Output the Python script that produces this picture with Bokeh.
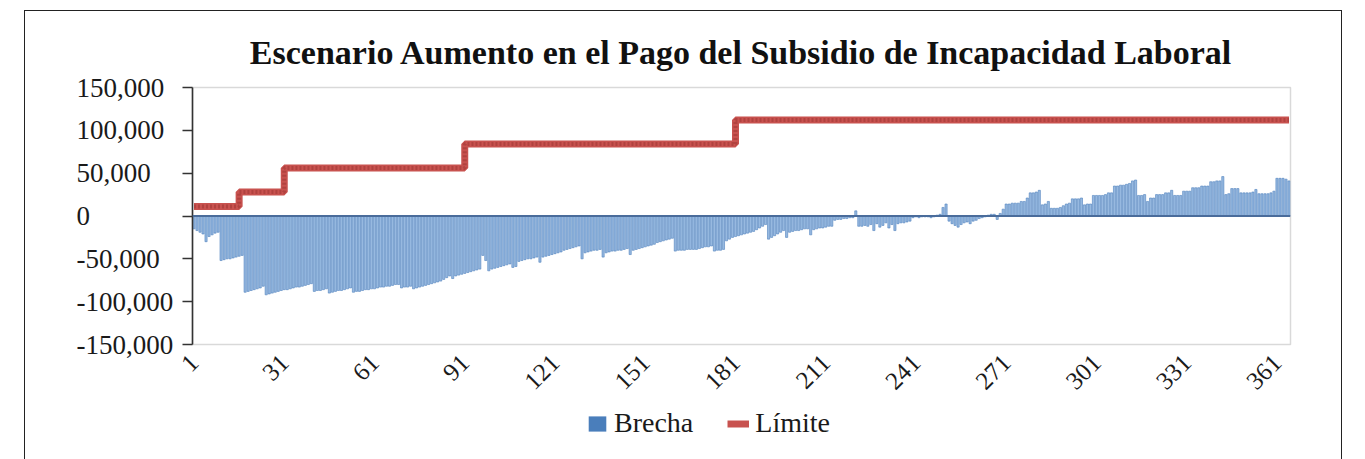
import math
from bokeh.plotting import figure
from bokeh.models import (Range1d, FixedTicker, Legend, LegendItem, Span,
                          ColumnDataSource)
from bokeh.layouts import row, column
from bokeh.embed import file_html
from bokeh.resources import INLINE

# ---------------- data ----------------
titulo = "Escenario Aumento en el Pago del Subsidio de Incapacidad Laboral"

dias = list(range(1, 366))

brecha = [
    # 1-9
    -15000, -17000, -19000, -21000, -30000, -24000, -22000, -20000, -19000,
    # 10-17
    -52000, -51000, -50000, -50000, -49000, -48000, -47000, -46000,
    # 18-24
    -89000, -88000, -87000, -86000, -85000, -84000, -82000,
    # 25-40
    -92000, -91000, -90000, -89000, -88000, -87000, -86000, -86000,
    -85000, -84000, -83000, -83000, -82000, -81000, -80000, -79000,
    # 41-45
    -88000, -87000, -87000, -86000, -85000,
    # 46-53
    -90000, -89000, -88000, -87000, -87000, -86000, -85000, -84000,
    # 54-69
    -89000, -88000, -88000, -87000, -86000, -86000, -85000, -85000,
    -84000, -83000, -83000, -82000, -82000, -81000, -80000, -80000,
    # 70-74
    -84000, -83000, -83000, -82000, -85000,
    # 75-86
    -84000, -83000, -82000, -81000, -80000, -79000, -78000, -77000,
    -76000, -74000, -72000, -70000,
    # 87
    -73000,
    # 88-96
    -70000, -69000, -68000, -67000, -66000, -65000, -64000, -63000, -62000,
    # 97-99
    -46000, -52000, -64000,
    # 100-106
    -62000, -61000, -60000, -59000, -58000, -57000, -56000,
    # 107-108
    -60000, -59000,
    # 109-115
    -53000, -52000, -51000, -50000, -50000, -49000, -48000,
    # 116
    -54000,
    # 117-123
    -48000, -47000, -46000, -45000, -44000, -43000, -42000,
    # 124-129
    -40000, -39000, -38000, -37000, -36000, -35000,
    # 130
    -50000,
    # 131-136
    -43000, -42000, -41000, -40000, -40000, -39000,
    # 137
    -48000,
    # 138-145
    -43000, -42000, -41000, -41000, -40000, -40000, -39000, -38000,
    # 146
    -45000,
    # 147-155
    -40000, -39000, -38000, -37000, -36000, -35000, -34000, -33000, -31000,
    # 156-160
    -30000, -29000, -28000, -27000, -26000,
    # 161-167
    -41000, -40000, -40000, -40000, -39000, -39000, -39000,
    # 168-173
    -39000, -38000, -37000, -36000, -36000, -35000,
    # 174-177
    -41000, -40000, -40000, -39000,
    # 178-187
    -29000, -27000, -25000, -24000, -23000, -22000, -21000, -20000, -19000, -18000,
    # 188-191
    -16000, -14000, -12000, -10000,
    # 192-197
    -27000, -25000, -23000, -21000, -19000, -17000,
    # 198
    -25000,
    # 199-205
    -19000, -18000, -17000, -17000, -16000, -15000, -15000,
    # 206
    -22000,
    # 207-213
    -16000, -15000, -14000, -14000, -13000, -12000, -12000,
    # 214-220
    -5000, -4000, -4000, -3000, -3000, -2000, -2000,
    # 221
    6000,
    # 222-239
    -12000, -12000, -11000, -12000, -10000, -17000, -9000, -13000, -11000,
    -8000, -14000, -10000, -17000, -9000, -8000, -8000, -7000, -6000,
    # 240-249
    -2000, -1000, -2000, -1000, -1000, -1000, -2000, -1000, 1000, 2000,
    # 250-251
    10000, 14000,
    # 252-261
    -6000, -9000, -11000, -13000, -10000, -8000, -7000, -9000, -6000, -5000,
    # 262-266
    -3000, -2000, -1000, 1000, 2000,
    # 267-270
    2000, -4000, 3000, 8000,
    # 271-277
    14000, 14000, 15000, 15000, 15000, 17000, 17000,
    # 278-282
    21000, 27000, 27000, 28000, 30000,
    # 283-285
    13000, 14000, 17000,
    # 286-290
    9000, 9000, 9000, 10000, 12000,
    # 291-296
    14000, 15000, 20000, 20000, 20000, 21000,
    # 297-299
    13000, 14000, 14000,
    # 300-306
    24000, 24000, 24000, 24000, 25000, 27000, 27000,
    # 307-314
    35000, 35000, 36000, 36000, 37000, 38000, 41000, 42000,
    # 315-320
    24000, 24000, 25000, 17000, 21000, 21000,
    # 321-326
    25000, 25000, 25000, 27000, 27000, 30000,
    # 327-332
    24000, 24000, 24000, 29000, 29000, 29000,
    # 333-338
    33000, 33000, 33000, 35000, 35000, 35000,
    # 339-343
    40000, 40000, 41000, 41000, 46000,
    # 344-348
    25000, 26000, 32000, 32000, 32000,
    # 349-354
    27000, 27000, 27000, 27000, 28000, 31000,
    # 355-360
    26000, 26000, 26000, 26000, 27000, 29000,
    # 361-365
    44000, 44000, 44000, 43000, 41000,
]

# Límite: level changes (day where each level starts, plus last day)
limite_dia = [1, 16, 31, 91, 181, 365]
limite_valor = [11000, 28000, 56000, 84000, 112000, 112000]

x_ticks = [1, 31, 61, 91, 121, 151, 181, 211, 241, 271, 301, 331, 361]
y_ticks = [-150000, -100000, -50000, 0, 50000, 100000, 150000]
y_tick_labels = ["-150,000", "-100,000", "-50,000", "0", "50,000", "100,000", "150,000"]
y_min, y_max = -150000, 150000

serif = "Liberation Serif"
INK = "#1a1a1a"

# ---------------- layout constants (pixels) ----------------
LABEL_W = 176          # strip holding the left-aligned y labels
MAIN_W = 1189
TOP = 87               # frame top
BOTTOM = 55            # space below the frame for the x labels
MAIN_H = 345 + BOTTOM
LEG_H = 59

yr = Range1d(y_min, y_max)

# ---------------- main chart ----------------
p = figure(width=MAIN_W, height=MAIN_H, output_backend="svg", toolbar_location=None,
           x_range=Range1d(0.5, 365.5), y_range=yr,
           min_border_left=16, min_border_right=75, min_border_top=TOP,
           min_border_bottom=BOTTOM, background_fill_color="white",
           border_fill_alpha=0)

p.title.text = titulo
p.title.text_font = serif
p.title.text_font_style = "bold"
p.title.text_font_size = "34px"
p.title.align = "center"
p.title.text_color = "#111111"
p.title.standoff = 33

p.xgrid.visible = False
p.ygrid.visible = False
p.outline_line_color = "#D9D9D9"
p.outline_line_width = 1.5

p.yaxis.ticker = FixedTicker(ticks=y_ticks)
p.yaxis.major_tick_out = 10
p.yaxis.major_tick_in = 0
p.yaxis.minor_tick_line_color = None
p.yaxis.axis_line_color = "#333333"
p.yaxis.axis_line_width = 1.6
p.yaxis.major_tick_line_color = "#333333"
p.yaxis.major_tick_line_width = 1.6
p.yaxis.major_label_text_color = None
p.yaxis.major_label_text_font_size = "1px"
p.yaxis.major_label_standoff = 0

p.xaxis.ticker = FixedTicker(ticks=x_ticks)
p.xaxis.major_label_orientation = math.pi / 4
p.xaxis.axis_line_color = None
p.xaxis.major_tick_line_color = None
p.xaxis.minor_tick_line_color = None
p.xaxis.major_label_standoff = 8
p.xaxis.major_label_text_font = serif
p.xaxis.major_label_text_font_size = "25px"
p.xaxis.major_label_text_color = INK

src = ColumnDataSource(dict(dia=dias, brecha=brecha))
p.vbar(x="dia", top="brecha", bottom=0, width=0.72, source=src,
       fill_color="#97B9E0", line_color="#4F81BD", line_width=0.6)

p.add_layout(Span(location=0, dimension="width", line_color="#4A6C9B",
                  line_width=2))

p.step(x=limite_dia, y=limite_valor, mode="after",
       line_color="#C8524F", line_width=7)
p.step(x=limite_dia, y=limite_valor, mode="after",
       line_color="#A63C39", line_width=4, line_dash="2 2", line_alpha=0.7)

# ---------------- y-label strip: a right-side axis gives left-aligned labels ----------------
lab = figure(width=LABEL_W, height=MAIN_H, output_backend="svg", toolbar_location=None,
             x_range=Range1d(0, 1), y_range=yr,
             x_axis_location=None, y_axis_location="right",
             min_border_left=66, min_border_right=100,
             min_border_top=TOP, min_border_bottom=BOTTOM,
             background_fill_alpha=0, border_fill_alpha=0)
lab.outline_line_color = None
lab.xgrid.visible = False
lab.ygrid.visible = False
lab.yaxis.ticker = FixedTicker(ticks=y_ticks)
lab.yaxis.major_label_overrides = dict(zip(y_ticks, y_tick_labels))
lab.yaxis.axis_line_color = None
lab.yaxis.major_tick_line_color = None
lab.yaxis.minor_tick_line_color = None
lab.yaxis.major_tick_out = 0
lab.yaxis.major_tick_in = 0
lab.yaxis.major_label_standoff = 2
lab.yaxis.major_label_text_font = serif
lab.yaxis.major_label_text_font_size = "27px"
lab.yaxis.major_label_text_color = INK

# ---------------- legend strip ----------------
leg = figure(width=LABEL_W + MAIN_W, height=LEG_H, output_backend="svg",
             toolbar_location=None, x_range=Range1d(0, 1), y_range=Range1d(0, 1),
             x_axis_location=None, y_axis_location=None, min_border=0,
             background_fill_alpha=0, border_fill_alpha=0)
leg.outline_line_color = None
leg.xgrid.visible = False
leg.ygrid.visible = False
icon_b = leg.vbar(x=[5], top=[1], width=0.1, fill_color="#4A7EBB", line_color=None)
icon_l = leg.line(x=[5, 6], y=[0, 0], line_color="#C8524F", line_width=7)
legend = Legend(items=[LegendItem(label="Brecha", renderers=[icon_b]),
                       LegendItem(label="Límite", renderers=[icon_l])],
                orientation="horizontal", location=(586, 20),
                label_text_font=serif, label_text_font_size="28px",
                label_text_color=INK,
                glyph_width=22, glyph_height=19, spacing=34, label_standoff=6,
                border_line_color=None, background_fill_alpha=0, padding=0,
                margin=0)
leg.add_layout(legend)

# outer picture frame (left, top and right edges) drawn as a CSS background
frame_css = ("linear-gradient(#222,#222) 24px 10px / 1px 449px no-repeat, "
             "linear-gradient(#222,#222) 24px 10px / 1318px 1px no-repeat, "
             "linear-gradient(#222,#222) 1341px 10px / 1px 449px no-repeat, #ffffff")

layout = column(row(lab, p), leg, styles={"background": frame_css})

open("out.html", "w").write(file_html(layout, INLINE))
